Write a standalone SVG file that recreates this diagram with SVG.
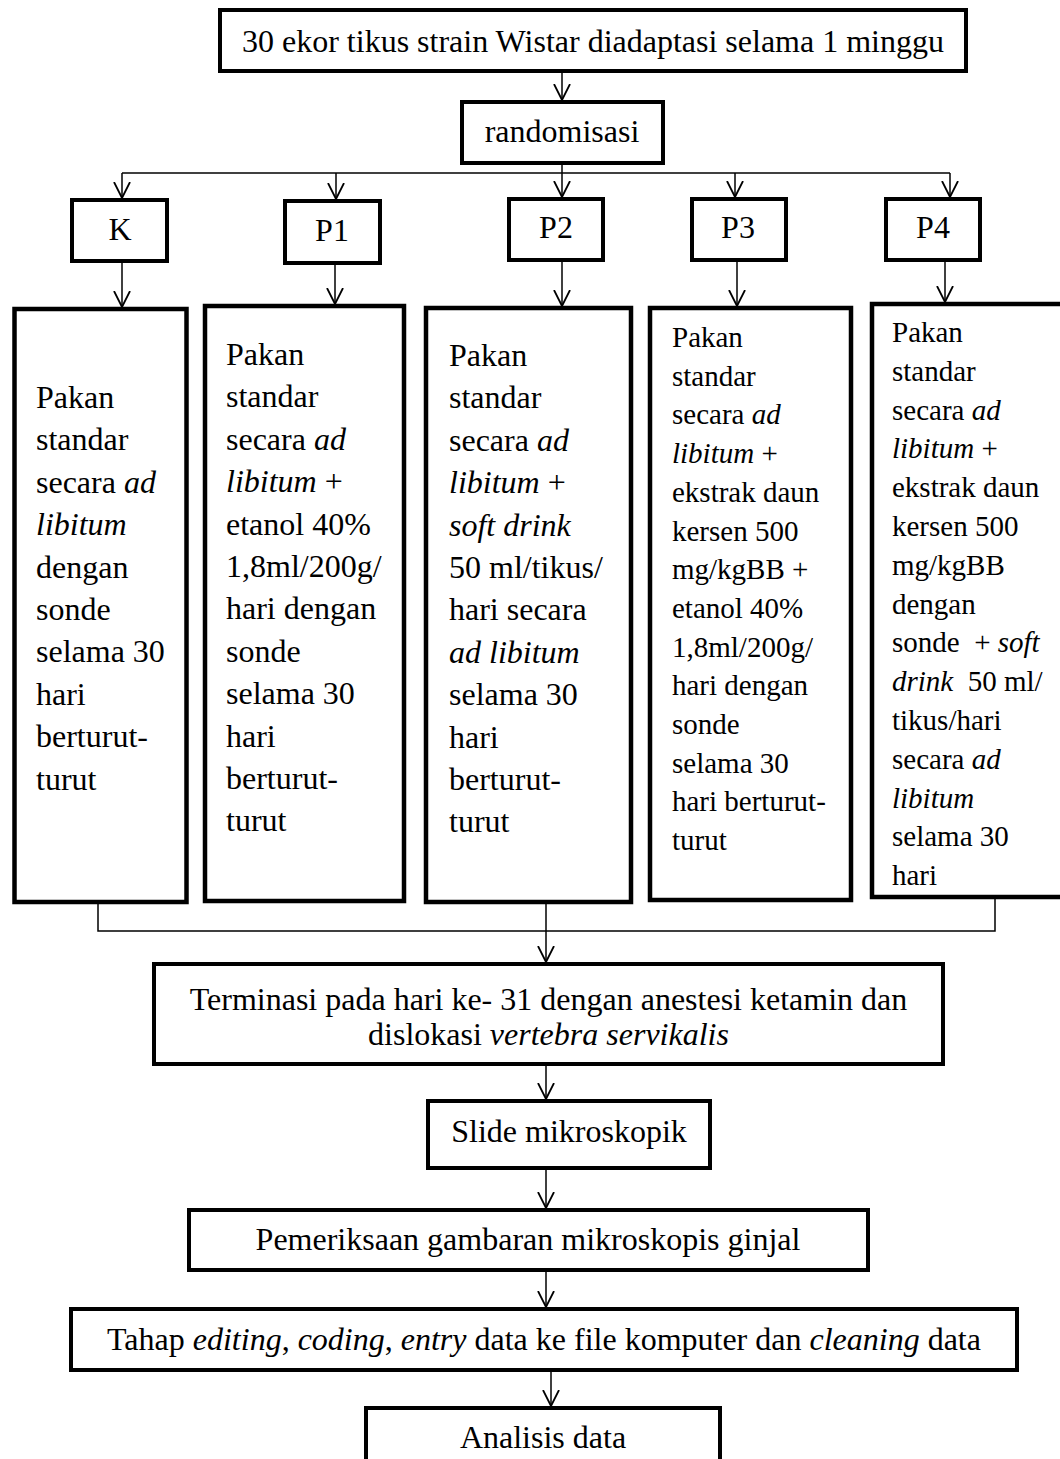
<svg xmlns="http://www.w3.org/2000/svg" width="1060" height="1459" viewBox="0 0 1060 1459">
<defs>
<style>
.box{fill:#fff;stroke:#000;stroke-width:4}
.big{fill:#fff;stroke:#000;stroke-width:4.5}
.t{font-family:"Liberation Serif","Times New Roman",serif;font-size:32px;fill:#000}
.c{text-anchor:middle}
.s{font-size:29px}
.i{font-style:italic}
.ln{fill:none;stroke:#000;stroke-width:1.5}
</style>
<marker id="ah" viewBox="0 0 18 18" refX="16" refY="9" markerWidth="18" markerHeight="18" markerUnits="userSpaceOnUse" orient="auto">
<path d="M0,1 L16,9 L0,17" fill="none" stroke="#000" stroke-width="1.8"/>
</marker>
</defs>
<rect width="1060" height="1459" fill="#fff"/>

<g id="connectors">
<line class="ln" x1="562" y1="73" x2="562" y2="100" marker-end="url(#ah)"/>
<line class="ln" x1="122" y1="173" x2="950" y2="173"/>
<line class="ln" x1="562" y1="165" x2="562" y2="197" marker-end="url(#ah)"/>
<line class="ln" x1="122" y1="173" x2="122" y2="198" marker-end="url(#ah)"/>
<line class="ln" x1="336" y1="173" x2="336" y2="199" marker-end="url(#ah)"/>
<line class="ln" x1="735" y1="173" x2="735" y2="197" marker-end="url(#ah)"/>
<line class="ln" x1="950" y1="173" x2="950" y2="197" marker-end="url(#ah)"/>
<line class="ln" x1="122" y1="263" x2="122" y2="307" marker-end="url(#ah)"/>
<line class="ln" x1="335" y1="265" x2="335" y2="304" marker-end="url(#ah)"/>
<line class="ln" x1="562" y1="262" x2="562" y2="306" marker-end="url(#ah)"/>
<line class="ln" x1="737" y1="262" x2="737" y2="306" marker-end="url(#ah)"/>
<line class="ln" x1="945" y1="262" x2="945" y2="302" marker-end="url(#ah)"/>
<polyline class="ln" points="98,904 98,931 995,931 995,899"/>
<line class="ln" x1="546" y1="904" x2="546" y2="962" marker-end="url(#ah)"/>
<line class="ln" x1="546" y1="1066" x2="546" y2="1099" marker-end="url(#ah)"/>
<line class="ln" x1="546" y1="1170" x2="546" y2="1208" marker-end="url(#ah)"/>
<line class="ln" x1="546" y1="1272" x2="546" y2="1307" marker-end="url(#ah)"/>
<line class="ln" x1="551" y1="1372" x2="551" y2="1406" marker-end="url(#ah)"/>
</g>

<g id="n-start">
<rect class="box" x="220" y="10" width="746" height="61"/>
<text class="t c" x="593" y="52">30 ekor tikus strain Wistar diadaptasi selama 1 minggu</text>
</g>
<g id="n-random">
<rect class="box" x="462" y="102" width="201" height="61"/>
<text class="t c" x="562" y="142">randomisasi</text>
</g>

<g id="n-K"><rect class="box" x="72" y="200" width="95" height="61"/><text class="t c" x="120" y="240">K</text></g>
<g id="n-P1"><rect class="box" x="285" y="201" width="95" height="62"/><text class="t c" x="332" y="241">P1</text></g>
<g id="n-P2"><rect class="box" x="509" y="199" width="94" height="61"/><text class="t c" x="556" y="238">P2</text></g>
<g id="n-P3"><rect class="box" x="692" y="199" width="94" height="61"/><text class="t c" x="738" y="238">P3</text></g>
<g id="n-P4"><rect class="box" x="886" y="199" width="94" height="61"/><text class="t c" x="933" y="238">P4</text></g>

<g id="d-K">
<rect class="big" x="14.5" y="309" width="172" height="593"/>
<text class="t" x="36" y="408">Pakan</text>
<text class="t" x="36" y="450.4">standar</text>
<text class="t" x="36" y="492.8">secara <tspan class="i">ad</tspan></text>
<text class="t i" x="36" y="535.2">libitum</text>
<text class="t" x="36" y="577.6">dengan</text>
<text class="t" x="36" y="620">sonde</text>
<text class="t" x="36" y="662.4">selama 30</text>
<text class="t" x="36" y="704.8">hari</text>
<text class="t" x="36" y="747.2">berturut-</text>
<text class="t" x="36" y="789.6">turut</text>
</g>

<g id="d-P1">
<rect class="big" x="205" y="306" width="199" height="595"/>
<text class="t" x="226" y="365">Pakan</text>
<text class="t" x="226" y="407.4">standar</text>
<text class="t" x="226" y="449.8">secara <tspan class="i">ad</tspan></text>
<text class="t" x="226" y="492.2"><tspan class="i">libitum</tspan> +</text>
<text class="t" x="226" y="534.6">etanol 40%</text>
<text class="t" x="226" y="577">1,8ml/200g/</text>
<text class="t" x="226" y="619.4">hari dengan</text>
<text class="t" x="226" y="661.8">sonde</text>
<text class="t" x="226" y="704.2">selama 30</text>
<text class="t" x="226" y="746.6">hari</text>
<text class="t" x="226" y="789">berturut-</text>
<text class="t" x="226" y="831.4">turut</text>
</g>

<g id="d-P2">
<rect class="big" x="426" y="308" width="205" height="594"/>
<text class="t" x="449" y="366">Pakan</text>
<text class="t" x="449" y="408.4">standar</text>
<text class="t" x="449" y="450.8">secara <tspan class="i">ad</tspan></text>
<text class="t" x="449" y="493.2"><tspan class="i">libitum</tspan> +</text>
<text class="t i" x="449" y="535.6">soft drink</text>
<text class="t" x="449" y="578">50 ml/tikus/</text>
<text class="t" x="449" y="620.4">hari secara</text>
<text class="t i" x="449" y="662.8">ad libitum</text>
<text class="t" x="449" y="705.2">selama 30</text>
<text class="t" x="449" y="747.6">hari</text>
<text class="t" x="449" y="790">berturut-</text>
<text class="t" x="449" y="832.4">turut</text>
</g>

<g id="d-P3">
<rect class="big" x="650" y="308" width="201" height="592"/>
<text class="t s" x="672" y="347">Pakan</text>
<text class="t s" x="672" y="385.7">standar</text>
<text class="t s" x="672" y="424.4">secara <tspan class="i">ad</tspan></text>
<text class="t s" x="672" y="463.1"><tspan class="i">libitum</tspan> +</text>
<text class="t s" x="672" y="501.8">ekstrak daun</text>
<text class="t s" x="672" y="540.5">kersen 500</text>
<text class="t s" x="672" y="579.2">mg/kgBB +</text>
<text class="t s" x="672" y="617.9">etanol 40%</text>
<text class="t s" x="672" y="656.6">1,8ml/200g/</text>
<text class="t s" x="672" y="695.3">hari dengan</text>
<text class="t s" x="672" y="734">sonde</text>
<text class="t s" x="672" y="772.7">selama 30</text>
<text class="t s" x="672" y="811.4">hari berturut-</text>
<text class="t s" x="672" y="850.1">turut</text>
</g>

<g id="d-P4">
<rect class="big" x="872" y="304" width="200" height="593"/>
<text class="t s" x="892" y="342">Pakan</text>
<text class="t s" x="892" y="380.8">standar</text>
<text class="t s" x="892" y="419.6">secara <tspan class="i">ad</tspan></text>
<text class="t s" x="892" y="458.4"><tspan class="i">libitum</tspan> +</text>
<text class="t s" x="892" y="497.2">ekstrak daun</text>
<text class="t s" x="892" y="536">kersen 500</text>
<text class="t s" x="892" y="574.8">mg/kgBB</text>
<text class="t s" x="892" y="613.6">dengan</text>
<text class="t s" x="892" y="652.4" xml:space="preserve">sonde  + <tspan class="i">soft</tspan></text>
<text class="t s" x="892" y="691.2" xml:space="preserve"><tspan class="i">drink</tspan>  50 ml/</text>
<text class="t s" x="892" y="730">tikus/hari</text>
<text class="t s" x="892" y="768.8">secara <tspan class="i">ad</tspan></text>
<text class="t s i" x="892" y="807.6">libitum</text>
<text class="t s" x="892" y="846.4">selama 30</text>
<text class="t s" x="892" y="885.2">hari</text>
</g>

<g id="n-terminasi">
<rect class="box" x="154" y="964" width="789" height="100"/>
<text class="t c" x="548.5" y="1010">Terminasi pada hari ke- 31 dengan anestesi ketamin dan</text>
<text class="t c" x="548.5" y="1045">dislokasi <tspan class="i">vertebra servikalis</tspan></text>
</g>
<g id="n-slide">
<rect class="box" x="428" y="1101" width="282" height="67"/>
<text class="t c" x="569" y="1142">Slide mikroskopik</text>
</g>
<g id="n-pemeriksaan">
<rect class="box" x="189" y="1210" width="679" height="60"/>
<text class="t c" x="528" y="1250">Pemeriksaan gambaran mikroskopis ginjal</text>
</g>
<g id="n-tahap">
<rect class="box" x="71" y="1309" width="946" height="61"/>
<text class="t c" x="544" y="1350">Tahap <tspan class="i">editing</tspan>, <tspan class="i">coding</tspan>, <tspan class="i">entry</tspan> data ke file komputer dan <tspan class="i">cleaning</tspan> data</text>
</g>
<g id="n-analisis">
<rect class="box" x="366" y="1408" width="354" height="80"/>
<text class="t c" x="543" y="1448">Analisis data</text>
</g>
</svg>
